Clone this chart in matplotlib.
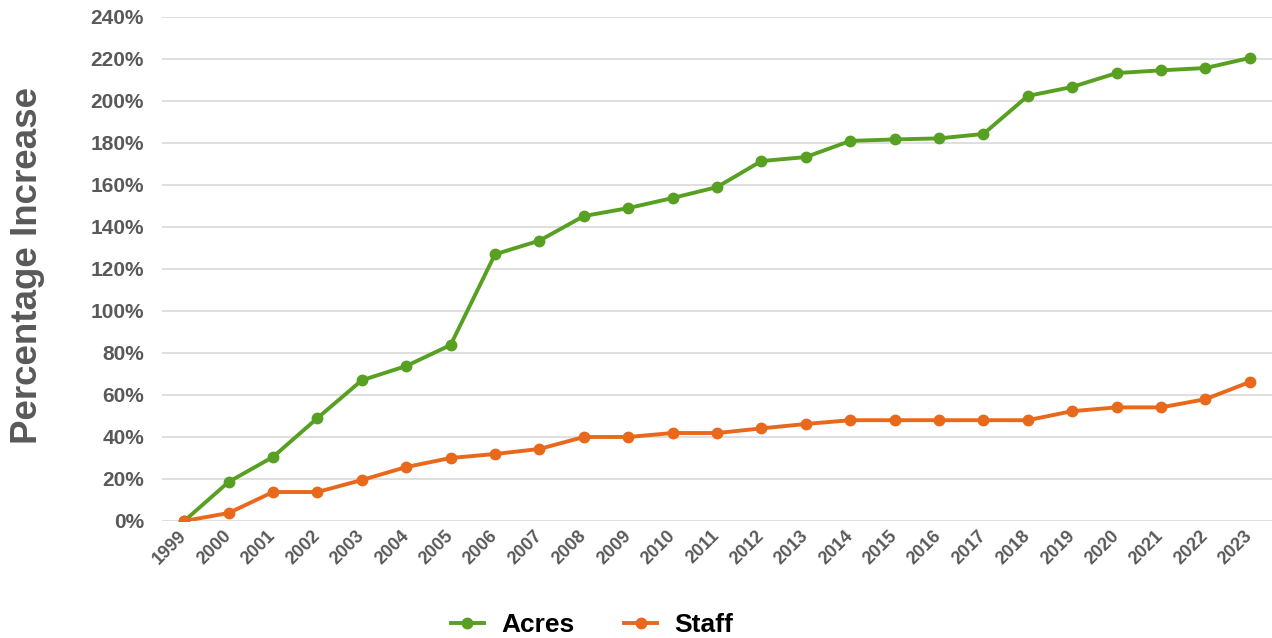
import matplotlib.pyplot as plt
from matplotlib.ticker import FuncFormatter

plt.rcParams['font.family'] = ['Liberation Sans', 'DejaVu Sans']
plt.rcParams['font.weight'] = 'bold'

years = list(range(1999, 2024))
acres = [0, 18.6, 30.5, 49, 67, 73.8, 83.8, 127, 133.5, 145.2, 149, 153.8, 159,
         171.4, 173.3, 181, 181.7, 182.2, 184.3, 202.4, 206.7, 213.3, 214.6, 215.7, 220.5]
staff = [0, 3.8, 13.8, 13.8, 19.5, 25.7, 30, 31.9, 34.3, 40, 40, 41.9, 41.9,
         44.1, 46.2, 48, 48, 48, 48, 48, 52.3, 54.1, 54.1, 58, 66.2]

green = "#57a021"
orange = "#e8681c"
gray = "#595959"

fig = plt.figure(figsize=(12.72, 6.38), dpi=100)
ax = fig.add_axes([162 / 1272, 1 - 521 / 638, 1 - 162 / 1272, (521 - 17) / 638])

x = list(range(len(years)))
ax.plot(x, acres, color=green, lw=2.8, marker="o", ms=7.5, label="Acres", zorder=3)
ax.plot(x, staff, color=orange, lw=2.8, marker="o", ms=7.5, label="Staff", zorder=3)

ax.set_xlim(-0.5, len(years) - 0.5)
ax.set_ylim(0, 240)
ax.set_yticks(range(0, 241, 20))
ax.yaxis.set_major_formatter(FuncFormatter(lambda v, p: f"{v:.0f}%"))
ax.set_xticks(x)
ax.set_xticklabels([str(y) for y in years], rotation=45, ha="right",
                   va="center", rotation_mode="anchor")

ax.grid(axis="y", color="#d9d9d9", lw=1.2)
ax.set_axisbelow(True)
for s in ax.spines.values():
    s.set_visible(False)
ax.tick_params(axis="y", length=0, pad=13, labelsize=15, labelcolor=gray)
ax.tick_params(axis="x", length=0, pad=9, labelsize=13, labelcolor=gray)

fig.text(28 / 1272, 1 - 265 / 638, "Percentage Increase", rotation=90,
         ha="center", va="center", fontsize=26.5, color=gray, fontweight="bold")

fig.legend(loc="center", bbox_to_anchor=(592 / 1272, 1 - 625 / 638), ncol=2,
           frameon=False, fontsize=19, handlelength=1.25, columnspacing=1.9,
           handletextpad=0.65)

fig.savefig("out.png", dpi=100)
